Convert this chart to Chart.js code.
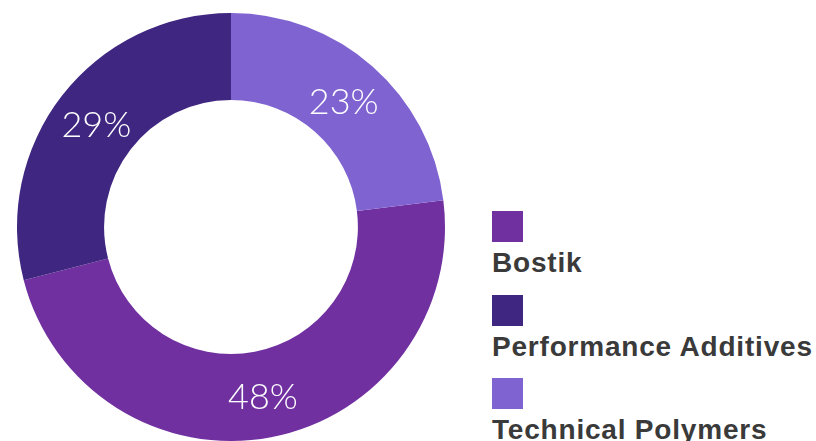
<!DOCTYPE html>
<html>
<head>
<meta charset="utf-8">
<script src="https://cdn.jsdelivr.net/npm/chart.js@4"></script>
<style>
    body { margin: 0; background: #fff; width: 816px; height: 441px; overflow: hidden; position: relative; }
    #wrap { position: absolute; left: 0; top: 0; width: 462px; height: 441px; }
    #legend { position: absolute; left: 492px; top: 211px; font-family: "Liberation Sans", Arial, sans-serif; font-weight: bold; font-size: 28px; letter-spacing: 0.8px; color: #3a3a3a; }
    .item { height: 83.5px; }
    .box { width: 31px; height: 31px; }
    .lbl { margin-top: 5px; white-space: nowrap; line-height: 32px; }
</style>
</head>
<body>
<div id="wrap"><canvas id="canvas1"></canvas></div>
<div id="legend"></div>
<script>
// thứ tự trong chú giải
let Segments = ["Bostik", "Performance Additives", "Technical Polymers"];
let Shares = [48, 29, 23];
let Colors = ['#7030a0', '#3f2680', '#7f63d1'];

function VeChuGiai() {
    var html = '';
    for (var i = 0; i < Segments.length; i++) {
        html += '<div class="item"><div class="box" style="background:' + Colors[i] + '"></div>' +
            '<div class="lbl">' + Segments[i] + '</div></div>';
    }
    document.getElementById('legend').innerHTML = html;
}

const nhanPhanTram = {
    id: 'nhanPhanTram',
    afterDatasetsDraw(chart) {
        const ctx = chart.ctx;
        const meta = chart.getDatasetMeta(0);
        ctx.save();
        ctx.fillStyle = '#ffffff';
        ctx.font = '300 36px Lato, "Open Sans", sans-serif';
        ctx.textAlign = 'center';
        ctx.textBaseline = 'middle';
        meta.data.forEach(function (arc, i) {
            const p = arc.tooltipPosition();
            ctx.fillText(Shares[i] + '%', p.x, p.y + 3);
        });
        ctx.restore();
    }
};

function CoCauDoanhThu() {
    const data = {
        labels: Segments,
        datasets: [{
            data: Shares,
            backgroundColor: Colors,
            borderWidth: 0
        }]
    };

    const config = {
        type: 'doughnut',
        data: data,
        options: {
            responsive: true,
            maintainAspectRatio: false,
            animation: false,
            cutout: '59.3%',
            rotation: 82.8,
            layout: { padding: { top: 13, bottom: 0, left: 17, right: 17 } },
            plugins: {
                legend: { display: false },
                tooltip: { enabled: false }
            }
        },
        plugins: [nhanPhanTram]
    };

    const chart = new Chart(document.getElementById('canvas1'), config);
}

VeChuGiai();
CoCauDoanhThu();
</script>
</body>
</html>
